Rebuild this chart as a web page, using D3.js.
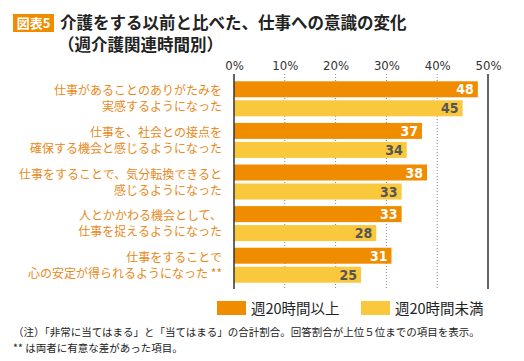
<!DOCTYPE html>
<html>
<head>
<meta charset="utf-8">
<script src="https://cdn.jsdelivr.net/npm/d3@7/dist/d3.min.js"></script>
<style>
  body { margin: 0; background: #fff; }
  svg text { font-family: "Noto Sans CJK JP", "Noto Sans", sans-serif; }
</style>
</head>
<body>
<script>
// data
let categories = [
    ["仕事があることのありがたみを", "実感するようになった"],
    ["仕事を、社会との接点を", "確保する機会と感じるようになった"],
    ["仕事をすることで、気分転換できると", "感じるようになった"],
    ["人とかかわる機会として、", "仕事を捉えるようになった"],
    ["仕事をすることで", "心の安定が得られるようになった **"]
];
let over20 = [48, 37, 38, 33, 31];
let under20 = [45, 34, 33, 28, 25];
let seriesNames = ["週20時間以上", "週20時間未満"];
let tickValues = [0, 10, 20, 30, 40, 50];

let width = 524, height = 361;
let orange = "#f08c00", yellow = "#f9c83c", labelColor = "#e8891a";

let svg = d3.select("body").append("svg")
    .attr("width", width).attr("height", height);

// title
svg.append("rect").attr("x", 13).attr("y", 14).attr("width", 41).attr("height", 18).attr("fill", orange);
svg.append("text").attr("x", 33.5).attr("y", 28).attr("text-anchor", "middle")
    .attr("fill", "#fff").attr("font-size", 13).attr("font-weight", "bold").text("図表5");
svg.append("text").attr("x", 60).attr("y", 29).attr("font-size", 16.5).attr("font-weight", "bold")
    .attr("fill", "#222").text("介護をする以前と比べた、仕事への意識の変化");
svg.append("text").attr("x", 58).attr("y", 51).attr("font-size", 16.5).attr("font-weight", "bold")
    .attr("fill", "#222").text("（週介護関連時間別）");

// scales
let x = d3.scaleLinear().domain([0, 50]).range([234, 488]);
let y = d3.scaleBand().domain(d3.range(categories.length)).range([78, 286]).paddingInner(0).paddingOuter(0);
let barH = 16, gap = 3;
let top0 = g => y(g) + (y.bandwidth() - (2 * barH + gap)) / 2;

// grid
let yTop = 74, yBot = 289;
svg.selectAll(".grid").data(tickValues.filter(d => d > 0 && d < 50)).join("line")
    .attr("x1", d => x(d)).attr("x2", d => x(d))
    .attr("y1", yTop).attr("y2", yBot)
    .attr("stroke", "#888").attr("stroke-width", 1).attr("stroke-dasharray", "1,2");

// tick labels
let axis = svg.append("g").attr("transform", `translate(0,${yTop - 4})`)
    .call(d3.axisTop(x).tickValues(tickValues).tickFormat(d => d + "%").tickSize(0).tickPadding(0));
axis.select(".domain").remove();
axis.selectAll("text").attr("font-size", 13).attr("fill", "#333")
    .style("font-family", "'DejaVu Sans Condensed', 'Liberation Sans Narrow', sans-serif");

// bars
let groups = svg.selectAll(".grp").data(categories).join("g");
groups.append("rect").attr("x", x(0)).attr("y", (d, i) => top0(i))
    .attr("width", (d, i) => x(over20[i]) - x(0)).attr("height", barH).attr("fill", orange);
groups.append("rect").attr("x", x(0)).attr("y", (d, i) => top0(i) + barH + gap)
    .attr("width", (d, i) => x(under20[i]) - x(0)).attr("height", barH).attr("fill", yellow);

groups.append("text").attr("x", (d, i) => x(over20[i]) - 4).attr("y", (d, i) => top0(i) + barH / 2 + 5)
    .attr("text-anchor", "end").attr("font-size", 14).attr("font-weight", "bold").attr("fill", "#fff")
    .style("font-family", "'DejaVu Sans Condensed', sans-serif")
    .text((d, i) => over20[i]);
groups.append("text").attr("x", (d, i) => x(under20[i]) - 4).attr("y", (d, i) => top0(i) + barH * 1.5 + gap + 5)
    .attr("text-anchor", "end").attr("font-size", 14).attr("font-weight", "bold").attr("fill", "#555")
    .style("font-family", "'DejaVu Sans Condensed', sans-serif")
    .text((d, i) => under20[i]);

// category labels
groups.append("text").attr("x", 222).attr("y", (d, i) => top0(i) + 14)
    .attr("text-anchor", "end").attr("font-size", 12).attr("fill", labelColor).text(d => d[0]);
groups.append("text").attr("x", 222).attr("y", (d, i) => top0(i) + 30)
    .attr("text-anchor", "end").attr("font-size", 12).attr("fill", labelColor).text(d => d[1]);

// axis lines
svg.append("line").attr("x1", x(0)).attr("x2", x(0)).attr("y1", yTop).attr("y2", yBot)
    .attr("stroke", "#333").attr("stroke-width", 1.5);
svg.append("line").attr("x1", x(50)).attr("x2", x(50)).attr("y1", yTop).attr("y2", yBot)
    .attr("stroke", "#333").attr("stroke-width", 1.5);

// legend
let legendX = [217, 361];
let leg = svg.selectAll(".leg").data(seriesNames).join("g")
    .attr("transform", (d, i) => `translate(${legendX[i]},301)`);
leg.append("rect").attr("width", 29).attr("height", 14).attr("fill", (d, i) => i ? yellow : orange);
leg.append("text").attr("x", 34).attr("y", 13).attr("font-size", 14.5).attr("fill", "#222").text(d => d);

// notes
svg.append("text").attr("x", 13).attr("y", 336).attr("font-size", 10.5).attr("fill", "#222")
    .text("（注）「非常に当てはまる」と「当てはまる」の合計割合。回答割合が上位５位までの項目を表示。");
svg.append("text").attr("x", 13).attr("y", 352).attr("font-size", 10.5).attr("fill", "#222")
    .text("** は両者に有意な差があった項目。");
</script>
</body>
</html>
